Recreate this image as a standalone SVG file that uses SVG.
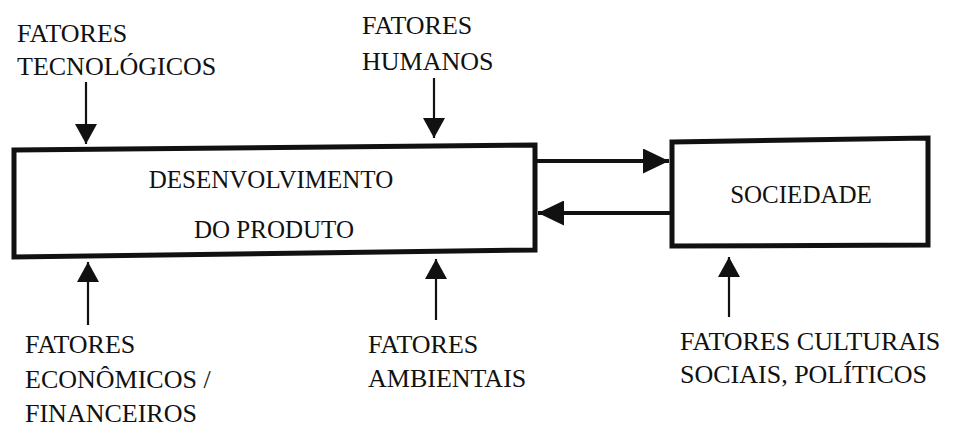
<svg xmlns="http://www.w3.org/2000/svg" width="955" height="428" viewBox="0 0 955 428">
<style>
text { font-family: "Liberation Serif", Tinos, "Nimbus Roman", "Noto Serif", "DejaVu Serif", Times, serif; fill: #111; }
.lbl { font-size: 26px; }
.box-t { font-size: 25px; }
.box { fill: #fff; stroke: #111; stroke-width: 5; stroke-linejoin: miter; }
.v { stroke: #111; stroke-width: 2.2; fill: none; }
.h { stroke: #111; stroke-width: 4; fill: none; }
</style>
<defs>
<marker id="av" markerUnits="userSpaceOnUse" markerWidth="20" markerHeight="22" refX="20" refY="11" orient="auto" viewBox="0 0 20 22">
<path d="M0,0 L20,11 L0,22 z" fill="#111"/>
</marker>
<marker id="ah" markerUnits="userSpaceOnUse" markerWidth="26" markerHeight="25" refX="26" refY="12.5" orient="auto" viewBox="0 0 26 25">
<path d="M0,0 L26,12.5 L0,25 z" fill="#111"/>
</marker>
</defs>
<rect width="955" height="428" fill="#fff"/>
<g id="desenvolvimento">
<path class="box" d="M14,150 L535,145 L535,250 L14,257 Z"/>
<text class="box-t" x="271" y="188" text-anchor="middle">DESENVOLVIMENTO</text>
<text class="box-t" x="274" y="238" text-anchor="middle">DO PRODUTO</text>
</g>
<g id="sociedade">
<path class="box" d="M672,142 L928,138 L928,245 L672,246 Z"/>
<text class="box-t" x="801" y="203" text-anchor="middle">SOCIEDADE</text>
</g>
<g id="fatores-tecnologicos">
<text class="lbl" x="17" y="42">FATORES</text>
<text class="lbl" x="17" y="75">TECNOLÓGICOS</text>
</g>
<g id="fatores-humanos">
<text class="lbl" x="362" y="34">FATORES</text>
<text class="lbl" x="362" y="70">HUMANOS</text>
</g>
<g id="fatores-economicos">
<text class="lbl" x="25" y="353">FATORES</text>
<text class="lbl" x="25" y="388">ECONÔMICOS /</text>
<text class="lbl" x="25" y="422">FINANCEIROS</text>
</g>
<g id="fatores-ambientais">
<text class="lbl" x="368" y="353">FATORES</text>
<text class="lbl" x="368" y="387">AMBIENTAIS</text>
</g>
<g id="fatores-culturais">
<text class="lbl" x="680" y="350">FATORES CULTURAIS</text>
<text class="lbl" x="680" y="383">SOCIAIS, POLÍTICOS</text>
</g>
<g id="connectors">
<line class="v" x1="86" y1="82" x2="86" y2="144" marker-end="url(#av)"/>
<line class="v" x1="434" y1="78" x2="434" y2="138" marker-end="url(#av)"/>
<line class="v" x1="88" y1="325" x2="88" y2="262" marker-end="url(#av)"/>
<line class="v" x1="436" y1="320" x2="436" y2="259" marker-end="url(#av)"/>
<line class="v" x1="729" y1="317" x2="729" y2="257" marker-end="url(#av)"/>
<line class="h" x1="537" y1="161" x2="669" y2="161" marker-end="url(#ah)"/>
<line class="h" x1="670" y1="213" x2="538" y2="213" marker-end="url(#ah)"/>
</g>
</svg>
